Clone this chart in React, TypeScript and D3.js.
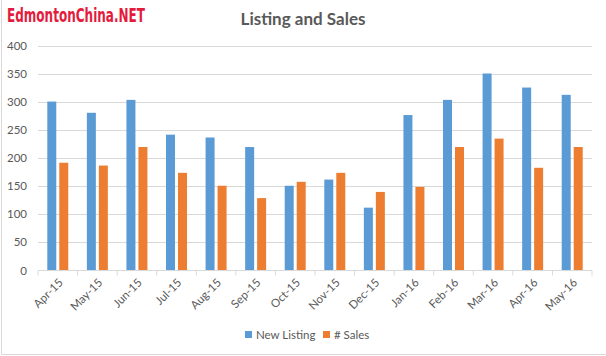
import React from "react";
import * as d3 from "d3";

const categories = ["Apr-15","May-15","Jun-15","Jul-15","Aug-15","Sep-15","Oct-15","Nov-15","Dec-15","Jan-16","Feb-16","Mar-16","Apr-16","May-16"];
const newListing = [301, 281, 304, 242, 237, 220, 151, 162, 112, 277, 304, 351, 326, 313];
const sales = [192, 187, 220, 174, 151, 129, 158, 174, 140, 149, 220, 235, 183, 220];
const seriesNames = ["New Listing", "# Sales"];
const seriesColors = ["#5B9BD5", "#ED7D31"];
const yTicks = [0, 50, 100, 150, 200, 250, 300, 350, 400];

const W = 606, H = 356;
const left = 38, right = 592, top = 46, bottom = 270.5;
const FONT = "Lato, 'Open Sans', sans-serif";
const TXT = "#595959";

export default function App() {
  const x = d3.scaleBand<string>().domain(categories).range([left, right]).padding(0);
  const xs = d3.scaleBand<string>().domain(seriesNames).range([0, x.bandwidth()]).paddingInner(0.25).paddingOuter(0.775);
  const y = d3.scaleLinear().domain([0, 400]).range([bottom, top]);
  const data = [newListing, sales];
  const tickXs = categories.map((c) => x(c)!).concat([right]);

  return (
    <svg width={W} height={H} style={{ position: "absolute", left: 0, top: 0, background: "#fff" }}>
      <rect x={0} y={0} width={W} height={H} fill="#fff" />
      <line x1={1.5} y1={0} x2={1.5} y2={354.5} stroke="#D9D9D9" />
      <line x1={1.5} y1={354.5} x2={W} y2={354.5} stroke="#D9D9D9" />
      <text x={7} y={22} fill="#E31B3D" fontFamily="'DejaVu Sans Condensed', 'DejaVu Sans', sans-serif" fontStretch="condensed" fontWeight="bold" fontSize={20} textLength={138} lengthAdjust="spacingAndGlyphs">EdmontonChina.NET</text>
      <text x={303} y={25} textAnchor="middle" fill={TXT} fontFamily={FONT} fontWeight="bold" fontSize={17}>Listing and Sales</text>
      {yTicks.filter((t) => t > 0).map((t) => (
        <line key={t} x1={left} x2={right} y1={Math.round(y(t)) + 0.5} y2={Math.round(y(t)) + 0.5} stroke="#D9D9D9" />
      ))}
      {yTicks.map((t) => (
        <text key={t} x={27} y={y(t)} dy="0.35em" textAnchor="end" fill={TXT} fontFamily={FONT} fontSize={11.5}>{t}</text>
      ))}
      {data.map((vals, si) =>
        vals.map((v, i) => (
          <rect key={si + "-" + i} x={x(categories[i])! + xs(seriesNames[si])!} width={xs.bandwidth()} y={y(v)} height={bottom - y(v)} fill={seriesColors[si]} />
        ))
      )}
      <line x1={left} x2={right} y1={bottom} y2={bottom} stroke="#D9D9D9" />
      {tickXs.map((tx, i) => (
        <line key={i} x1={tx} x2={tx} y1={bottom} y2={bottom + 5} stroke="#D9D9D9" />
      ))}
      {categories.map((c) => {
        const cx = x(c)! + x.bandwidth() / 2 + 3;
        const cy = bottom + 10;
        return (
          <text key={c} x={cx} y={cy} transform={`rotate(-45 ${cx} ${cy})`} textAnchor="end" dy="0.35em" fill={TXT} fontFamily={FONT} fontSize={11.5}>{c}</text>
        );
      })}
      <g fontFamily={FONT} fontSize={11.5} fill={TXT}>
        <rect x={245} y={331} width={7} height={7} fill={seriesColors[0]} />
        <text x={256} y={338.5}>{seriesNames[0]}</text>
        <rect x={323} y={331} width={7} height={7} fill={seriesColors[1]} />
        <text x={334} y={338.5}>{seriesNames[1]}</text>
      </g>
    </svg>
  );
}
